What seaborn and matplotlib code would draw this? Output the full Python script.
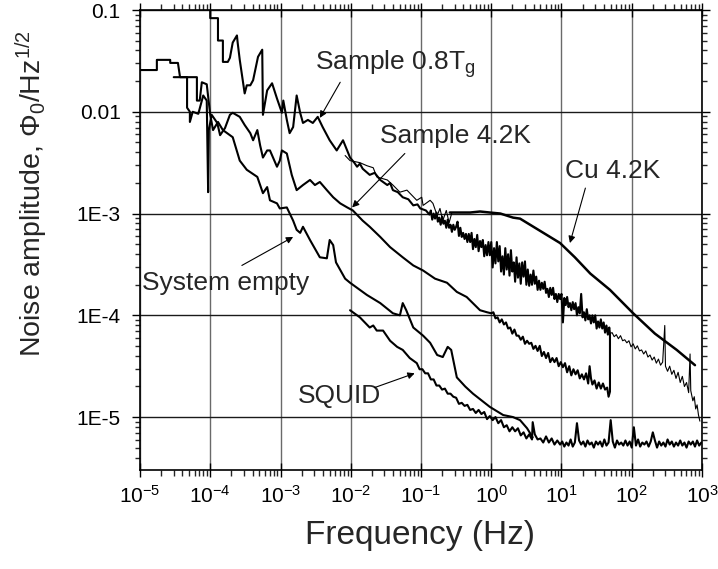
import pandas as pd
import seaborn as sns
import matplotlib.pyplot as plt
from matplotlib.ticker import LogLocator, FixedLocator, FixedFormatter, NullFormatter

sample_08tg = [
    (-4.00, -0.98), (-4.00, -1.08), (-3.89, -1.08), (-3.89, -1.30), (-3.82, -1.30),
    (-3.82, -1.51), (-3.75, -1.51), (-3.72, -1.47), (-3.68, -1.32), (-3.62, -1.25),
    (-3.61, -1.32), (-3.58, -1.49), (-3.51, -1.82), (-3.48, -1.74), (-3.43, -1.74),
    (-3.39, -1.69), (-3.32, -1.46), (-3.26, -1.39), (-3.25, -2.03), (-3.19, -1.79),
    (-3.12, -1.72), (-3.05, -1.87), (-2.98, -2.01), (-2.96, -1.89), (-2.91, -2.08),
    (-2.87, -2.21), (-2.82, -2.15), (-2.77, -1.84), (-2.72, -2.01), (-2.68, -2.11),
    (-2.61, -2.08), (-2.54, -2.11), (-2.47, -2.05), (-2.40, -2.15), (-2.30, -2.28),
    (-2.20, -2.38), (-2.11, -2.28), (-2.01, -2.45), (-1.95, -2.50), (-1.91, -2.54),
    (-1.87, -2.51), (-1.83, -2.56), (-1.73, -2.62), (-1.66, -2.60), (-1.58, -2.67),
    (-1.48, -2.72), (-1.44, -2.70), (-1.40, -2.77), (-1.33, -2.79), (-1.26, -2.84),
    (-1.18, -2.86), (-1.11, -2.92), (-1.05, -2.91), (-1.01, -2.95), (-0.93, -2.97),
    (-0.88, -3.01), (-0.86, -2.97), (-0.84, -3.06), (-0.82, -3.00), (-0.80, -3.05),
    (-0.78, -2.99), (-0.76, -3.08), (-0.74, -3.04), (-0.72, -3.11), (-0.70, -3.03),
    (-0.68, -3.10), (-0.66, -3.07), (-0.64, -3.14), (-0.62, -3.06), (-0.60, -3.14),
    (-0.58, -3.11), (-0.56, -3.18), (-0.54, -3.11), (-0.52, -3.16), (-0.50, -3.13),
    (-0.48, -3.08), (-0.46, -3.22), (-0.44, -3.14), (-0.42, -3.23), (-0.40, -3.19),
    (-0.38, -3.25), (-0.36, -3.20), (-0.34, -3.28), (-0.32, -3.20), (-0.30, -3.28),
    (-0.28, -3.19), (-0.26, -3.35), (-0.24, -3.25), (-0.22, -3.33), (-0.20, -3.21),
    (-0.18, -3.37), (-0.16, -3.27), (-0.14, -3.33), (-0.12, -3.26), (-0.10, -3.42),
    (-0.08, -3.31), (-0.06, -3.41), (-0.04, -3.28), (-0.02, -3.41), (0.00, -3.28),
    (0.02, -3.53), (0.04, -3.34), (0.06, -3.49), (0.08, -3.28), (0.10, -3.47),
    (0.12, -3.32), (0.14, -3.57), (0.16, -3.42), (0.18, -3.60), (0.20, -3.34),
    (0.22, -3.55), (0.24, -3.40), (0.26, -3.61), (0.28, -3.36), (0.30, -3.57),
    (0.32, -3.48), (0.34, -3.67), (0.36, -3.43), (0.38, -3.63), (0.40, -3.49),
    (0.42, -3.69), (0.44, -3.48), (0.46, -3.62), (0.48, -3.47), (0.50, -3.70),
    (0.52, -3.55), (0.54, -3.71), (0.56, -3.60), (0.58, -3.70), (0.60, -3.56),
    (0.62, -3.69), (0.64, -3.62), (0.66, -3.75), (0.68, -3.66), (0.70, -3.75),
    (0.72, -3.68), (0.74, -3.74), (0.76, -3.67), (0.78, -3.78), (0.80, -3.74),
    (0.82, -3.82), (0.84, -3.73), (0.86, -3.80), (0.88, -3.73), (0.90, -3.84),
    (0.92, -3.79), (0.94, -3.87), (0.96, -3.79), (0.98, -3.84), (1.00, -3.79),
    (1.02, -4.07), (1.04, -3.83), (1.06, -3.90), (1.08, -3.82), (1.10, -3.92),
    (1.12, -3.88), (1.14, -3.95), (1.16, -3.87), (1.18, -3.94), (1.20, -3.88),
    (1.22, -4.00), (1.24, -3.92), (1.26, -3.98), (1.28, -3.79), (1.30, -4.02),
    (1.32, -3.97), (1.34, -4.05), (1.36, -3.94), (1.38, -4.04), (1.40, -4.00),
    (1.42, -4.08), (1.44, -4.00), (1.46, -4.07), (1.48, -4.00), (1.50, -4.13),
    (1.52, -4.06), (1.54, -4.12), (1.56, -4.04), (1.58, -4.13), (1.60, -4.07),
    (1.62, -4.17), (1.64, -4.10), (1.66, -4.19), (1.68, -4.12), (1.69, -4.18),
]

sample_42k = [
    (-4.52, -1.66), (-4.33, -1.66), (-4.33, -1.96), (-4.29, -2.00), (-4.29, -2.10),
    (-4.25, -2.00), (-4.17, -2.02), (-4.10, -1.84), (-4.05, -1.89), (-4.03, -2.79),
    (-4.02, -2.18), (-3.98, -2.03), (-3.90, -2.11), (-3.86, -2.23), (-3.79, -2.16),
    (-3.72, -2.03), (-3.68, -2.01), (-3.58, -2.05), (-3.51, -2.13), (-3.43, -2.21),
    (-3.39, -2.28), (-3.33, -2.18), (-3.29, -2.33), (-3.25, -2.45), (-3.19, -2.38),
    (-3.15, -2.38), (-3.05, -2.54), (-3.01, -2.48), (-2.98, -2.38), (-2.91, -2.41),
    (-2.84, -2.62), (-2.77, -2.77), (-2.68, -2.72), (-2.58, -2.67), (-2.51, -2.72),
    (-2.44, -2.69), (-2.34, -2.77), (-2.25, -2.84), (-2.15, -2.90), (-2.05, -2.94),
    (-1.97, -2.97), (-1.83, -3.07), (-1.73, -3.13), (-1.58, -3.23), (-1.44, -3.33),
    (-1.26, -3.43), (-1.11, -3.51), (-0.97, -3.56), (-0.80, -3.64), (-0.63, -3.68),
    (-0.49, -3.77), (-0.35, -3.82), (-0.16, -3.95), (-0.06, -3.97), (0.00, -3.98),
    (0.03, -3.97), (0.06, -4.03), (0.09, -4.02), (0.12, -4.07), (0.15, -4.04),
    (0.18, -4.09), (0.21, -4.07), (0.24, -4.13), (0.27, -4.12), (0.30, -4.18),
    (0.33, -4.14), (0.36, -4.20), (0.39, -4.20), (0.42, -4.24), (0.45, -4.21),
    (0.48, -4.28), (0.51, -4.25), (0.54, -4.28), (0.57, -4.27), (0.60, -4.33),
    (0.63, -4.30), (0.66, -4.35), (0.69, -4.30), (0.72, -4.40), (0.75, -4.36),
    (0.78, -4.42), (0.81, -4.37), (0.84, -4.46), (0.87, -4.42), (0.90, -4.46),
    (0.93, -4.42), (0.96, -4.50), (0.99, -4.46), (1.02, -4.51), (1.05, -4.47),
    (1.08, -4.56), (1.11, -4.50), (1.14, -4.59), (1.17, -4.53), (1.20, -4.58),
    (1.23, -4.54), (1.26, -4.62), (1.29, -4.58), (1.32, -4.63), (1.35, -4.57),
    (1.38, -4.67), (1.40, -4.50), (1.42, -4.62), (1.44, -4.68), (1.47, -4.64),
    (1.50, -4.72), (1.53, -4.66), (1.56, -4.72), (1.59, -4.67), (1.62, -4.73),
    (1.65, -4.71), (1.67, -4.80), (1.69, -4.75), (1.69, -4.18),
]

high_freq_tail = [
    (1.69, -4.18), (1.72, -4.17), (1.75, -4.21), (1.78, -4.19), (1.81, -4.23),
    (1.84, -4.20), (1.87, -4.25), (1.90, -4.24), (1.93, -4.27), (1.96, -4.25),
    (1.99, -4.31), (2.02, -4.28), (2.05, -4.33), (2.08, -4.30), (2.11, -4.35),
    (2.14, -4.34), (2.17, -4.38), (2.20, -4.35), (2.23, -4.41), (2.26, -4.39),
    (2.29, -4.44), (2.32, -4.41), (2.35, -4.47), (2.38, -4.43), (2.41, -4.49),
    (2.44, -4.46), (2.47, -4.10), (2.48, -4.50), (2.51, -4.55), (2.54, -4.50),
    (2.57, -4.58), (2.60, -4.54), (2.63, -4.62), (2.66, -4.56), (2.69, -4.66),
    (2.72, -4.60), (2.75, -4.70), (2.78, -4.66), (2.81, -4.76), (2.83, -4.38),
    (2.84, -4.74), (2.87, -4.84), (2.89, -4.80), (2.91, -4.92), (2.93, -4.88),
    (2.95, -4.98), (2.97, -5.04),
]

system_empty = [
    (-5.00, -1.59), (-4.76, -1.59), (-4.76, -1.49), (-4.57, -1.49), (-4.57, -1.52),
    (-4.46, -1.52), (-4.43, -1.66), (-4.19, -1.66), (-4.19, -1.89), (-4.15, -1.89),
    (-4.12, -1.71), (-4.05, -1.73), (-4.02, -1.91), (-4.00, -2.03), (-3.96, -2.18),
    (-3.89, -2.10), (-3.82, -2.18), (-3.68, -2.25), (-3.58, -2.48), (-3.48, -2.57),
    (-3.33, -2.64), (-3.25, -2.80), (-3.19, -2.74), (-3.15, -2.87), (-3.05, -2.90),
    (-3.01, -2.95), (-2.91, -2.94), (-2.82, -3.07), (-2.77, -3.16), (-2.72, -3.19),
    (-2.68, -3.13), (-2.58, -3.26), (-2.44, -3.43), (-2.34, -3.44), (-2.30, -3.26),
    (-2.25, -3.31), (-2.21, -3.48), (-2.08, -3.64), (-2.01, -3.68), (-1.87, -3.75),
    (-1.77, -3.80), (-1.58, -3.88), (-1.40, -3.98), (-1.30, -4.00), (-1.26, -3.88),
    (-1.21, -3.95), (-1.11, -4.12), (-0.97, -4.20), (-0.87, -4.27), (-0.77, -4.39),
    (-0.69, -4.41), (-0.62, -4.31), (-0.57, -4.34), (-0.49, -4.61), (-0.37, -4.70),
    (-0.26, -4.77), (-0.02, -4.90), (0.17, -4.98), (0.31, -5.00), (0.41, -5.03),
    (0.51, -5.11), (0.59, -5.20),
]

squid = [
    (-2.01, -3.95), (-1.87, -4.02), (-1.73, -4.12), (-1.68, -4.10), (-1.63, -4.15),
    (-1.54, -4.15), (-1.44, -4.25), (-1.34, -4.31), (-1.26, -4.34), (-1.16, -4.42),
    (-1.10, -4.45), (-1.06, -4.47), (-1.02, -4.53), (-0.98, -4.53), (-0.94, -4.57),
    (-0.90, -4.57), (-0.86, -4.63), (-0.82, -4.63), (-0.78, -4.69), (-0.74, -4.69),
    (-0.70, -4.73), (-0.66, -4.72), (-0.62, -4.77), (-0.58, -4.77), (-0.54, -4.80),
    (-0.50, -4.81), (-0.46, -4.87), (-0.42, -4.86), (-0.38, -4.89), (-0.34, -4.88),
    (-0.30, -4.93), (-0.26, -4.92), (-0.22, -4.96), (-0.18, -4.93), (-0.14, -4.97),
    (-0.10, -4.95), (-0.06, -5.02), (-0.02, -4.99), (0.02, -5.03), (0.06, -5.00),
    (0.10, -5.06), (0.14, -5.03), (0.18, -5.10), (0.22, -5.08), (0.26, -5.14),
    (0.30, -5.10), (0.34, -5.14), (0.38, -5.11), (0.42, -5.18), (0.46, -5.15),
    (0.50, -5.21), (0.54, -5.17), (0.58, -5.22), (0.59, -5.05), (0.62, -5.17),
    (0.66, -5.22), (0.70, -5.21), (0.74, -5.25), (0.78, -5.19), (0.82, -5.25),
    (0.86, -5.21), (0.90, -5.27), (0.94, -5.23), (0.98, -5.27), (1.01, -5.24),
    (1.04, -5.29), (1.07, -5.25), (1.10, -5.28), (1.13, -5.22), (1.16, -5.29),
    (1.19, -5.25), (1.22, -5.06), (1.25, -5.23), (1.28, -5.27), (1.31, -5.24),
    (1.34, -5.29), (1.37, -5.23), (1.40, -5.27), (1.43, -5.25), (1.46, -5.30),
    (1.49, -5.24), (1.52, -5.27), (1.55, -5.24), (1.58, -5.29), (1.61, -5.22),
    (1.64, -5.28), (1.67, -5.25), (1.70, -5.03), (1.73, -5.24), (1.76, -5.30),
    (1.79, -5.23), (1.82, -5.27), (1.85, -5.25), (1.88, -5.28), (1.91, -5.23),
    (1.94, -5.28), (1.97, -5.24), (2.00, -5.30), (2.03, -5.10), (2.06, -5.28),
    (2.09, -5.22), (2.12, -5.29), (2.15, -5.25), (2.18, -5.27), (2.21, -5.24),
    (2.24, -5.29), (2.27, -5.24), (2.30, -5.15), (2.33, -5.23), (2.36, -5.30),
    (2.39, -5.24), (2.42, -5.28), (2.45, -5.25), (2.48, -5.29), (2.51, -5.22),
    (2.54, -5.27), (2.57, -5.24), (2.60, -5.29), (2.63, -5.25), (2.66, -5.28),
    (2.69, -5.23), (2.72, -5.28), (2.75, -5.25), (2.78, -5.30), (2.81, -5.24),
    (2.84, -5.27), (2.87, -5.24), (2.90, -5.29), (2.93, -5.23), (2.96, -5.28),
    (2.99, -5.25),
]

cu_low = [
    (-2.08, -2.43), (-2.01, -2.48), (-1.87, -2.50), (-1.77, -2.53), (-1.68, -2.55),
    (-1.63, -2.64), (-1.48, -2.67), (-1.40, -2.72), (-1.30, -2.79), (-1.20, -2.77),
    (-1.06, -2.87), (-0.99, -2.84), (-0.97, -2.92), (-0.87, -2.87), (-0.83, -2.90),
    (-0.77, -3.02), (-0.73, -2.95), (-0.69, -3.07), (-0.64, -2.97), (-0.60, -3.09),
    (-0.56, -2.99),
]

cu_high = [
    (-0.59, -2.99), (-0.30, -2.99), (-0.16, -2.98), (-0.02, -2.99), (0.13, -3.00),
    (0.31, -3.04), (0.41, -3.05), (0.60, -3.13), (0.79, -3.21), (0.98, -3.29),
    (1.19, -3.43), (1.41, -3.59), (1.69, -3.75), (2.02, -3.98), (2.33, -4.18),
    (2.64, -4.34), (2.90, -4.49),
]

y_tick_values = [1e-5, 1e-4, 1e-3, 1e-2, 1e-1]
y_tick_labels = ["1E-5", "1E-4", "1E-3", "0.01", "0.1"]

# annotations: label, text position, arrow tail, arrow tip (log10 coords)
annotations = [
    ("Sample 0.8T$_\\mathregular{g}$", (-2.51, -1.59), (-2.15, -1.71), (-2.44, -2.06)),
    ("Sample 4.2K", (-1.58, -2.31), (-1.23, -2.41), (-1.98, -2.94)),
    ("Cu 4.2K", (1.05, -2.65), (1.34, -2.75), (1.12, -3.29)),
    ("System empty", (-4.97, -3.75), (-3.55, -3.51), (-2.82, -3.23)),
    ("SQUID", (-2.75, -4.86), (-1.66, -4.71), (-1.09, -4.57)),
]

# ---- style ----
sns.set_theme(style="ticks")
plt.rcParams["font.family"] = ["Liberation Sans", "DejaVu Sans"]
plt.rcParams["mathtext.fontset"] = "custom"
plt.rcParams["mathtext.rm"] = "Liberation Sans"
plt.rcParams["mathtext.it"] = "Liberation Sans:italic"
plt.rcParams["mathtext.bf"] = "Liberation Sans:bold"

fig, ax = plt.subplots(figsize=(7.18, 5.69), dpi=100)
fig.subplots_adjust(left=140 / 718, right=702 / 718, top=1 - 10 / 569, bottom=1 - 470 / 569)
ax.set_xscale("log")
ax.set_yscale("log")


def draw(points, lw):
    df = pd.DataFrame(points, columns=["logf", "loga"])
    df["f"] = 10 ** df["logf"]
    df["a"] = 10 ** df["loga"]
    sns.lineplot(data=df, x="f", y="a", sort=False, estimator=None,
                 color="black", linewidth=lw, ax=ax, zorder=3)


draw(sample_08tg, 1.5)
draw(sample_42k, 1.5)
draw(high_freq_tail, 0.8)
draw(system_empty, 1.5)
draw(squid, 1.5)
draw(cu_low, 0.8)
draw(cu_high, 1.8)

for label, txt, tail, tip in annotations:
    ax.text(10 ** txt[0], 10 ** txt[1], label, fontsize=19, ha="left", va="baseline", zorder=5)
    ax.annotate("", xy=(10 ** tip[0], 10 ** tip[1]), xytext=(10 ** tail[0], 10 ** tail[1]),
                arrowprops=dict(arrowstyle="-|>", color="black", lw=0.8,
                                mutation_scale=10, shrinkA=0, shrinkB=0), zorder=5)

ax.set_xlim(1e-5, 1e3)
ax.set_ylim(10 ** -5.52, 0.1)

ax.xaxis.set_major_locator(LogLocator(base=10, numticks=20))
ax.xaxis.set_minor_locator(LogLocator(base=10, subs=range(2, 10), numticks=20))
ax.xaxis.set_minor_formatter(NullFormatter())
ax.yaxis.set_major_locator(FixedLocator(y_tick_values))
ax.yaxis.set_major_formatter(FixedFormatter(y_tick_labels))
ax.yaxis.set_minor_locator(LogLocator(base=10, subs=range(2, 10), numticks=20))
ax.yaxis.set_minor_formatter(NullFormatter())

ax.grid(True, which="major", axis="x", color="#6a6a6a", linewidth=1.0)
ax.grid(True, which="major", axis="y", color="#1a1a1a", linewidth=1.0)
ax.grid(False, which="minor")

for side in ["left", "right", "top", "bottom"]:
    ax.spines[side].set_visible(True)
    ax.spines[side].set_color("black")
    ax.spines[side].set_linewidth(1.2)

ax.tick_params(axis="x", which="major", direction="inout", length=10, width=1,
               top=True, bottom=True, labelsize=15, colors="black", pad=6)
ax.tick_params(axis="x", which="minor", direction="out", length=4, width=1, top=True, bottom=True)
ax.tick_params(axis="y", which="major", direction="out", length=6, width=1,
               left=True, right=True, labelsize=15, colors="black", pad=8)
ax.tick_params(axis="y", which="minor", direction="out", length=3.5, width=1, left=True, right=True)

ax.set_xlabel("Frequency (Hz)", fontsize=24)
ax.set_ylabel("Noise amplitude, $\\Phi_0$/Hz$^{1/2}$", fontsize=20.5)
ax.xaxis.set_label_coords(0.498, -0.108)
ax.yaxis.set_label_coords(-0.16, 0.60)

fig.savefig("out.png", dpi=100, facecolor="white")
